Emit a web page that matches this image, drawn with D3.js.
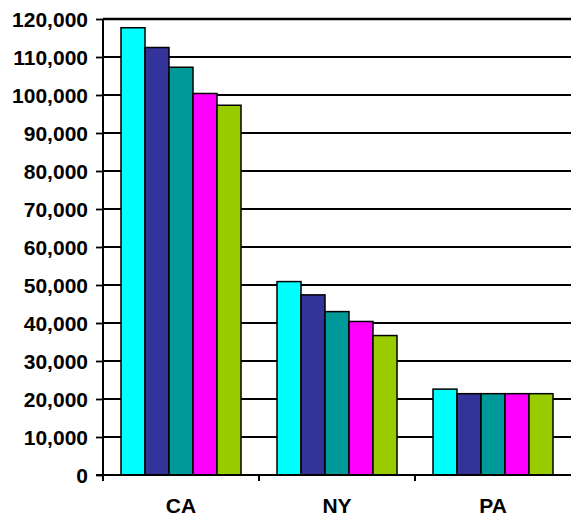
<!DOCTYPE html>
<html>
<head>
<meta charset="utf-8">
<script src="https://cdn.jsdelivr.net/npm/d3@7"></script>
<style>
  html, body { margin: 0; padding: 0; background: #fff; }
  svg text { font-family: "Liberation Sans", Arial, sans-serif; font-weight: bold; fill: #000; }
</style>
</head>
<body>
<div id="chart"></div>
<script>
//-- data
const states = ["CA", "NY", "PA"];
const seriesNames = ["s1", "s2", "s3", "s4", "s5"];
const colors = ["#00ffff", "#333399", "#009999", "#ff00ff", "#99cc00"];
const caValues = [117700, 112500, 107300, 100400, 97300];
const nyValues = [50900, 47400, 43000, 40400, 36700];
const paValues = [22600, 21400, 21400, 21400, 21400];
const yTicks = [0, 10000, 20000, 30000, 40000, 50000, 60000, 70000, 80000, 90000, 100000, 110000, 120000];

const valuesByState = { CA: caValues, NY: nyValues, PA: paValues };

//-- dimensions
const width = 571;
const height = 516;
const margin = { top: 19, right: 0, bottom: 41, left: 103 };

const svg = d3.select("#chart").append("svg")
  .attr("width", width)
  .attr("height", height);

const x = d3.scaleBand()
  .domain(states)
  .range([margin.left, width - margin.right])
  .padding(0);

const xInner = d3.scaleBand()
  .domain(seriesNames)
  .range([0, x.bandwidth()])
  .paddingInner(0)
  .paddingOuter(0.75);

const y = d3.scaleLinear()
  .domain([0, 120000])
  .range([height - margin.bottom, margin.top]);

//-- gridlines
svg.append("g")
  .selectAll("line")
  .data(yTicks.filter(d => d > 0))
  .join("line")
  .attr("x1", margin.left)
  .attr("x2", width)
  .attr("y1", d => y(d))
  .attr("y2", d => y(d))
  .attr("stroke", "#000")
  .attr("stroke-width", d => d === 120000 ? 2.5 : 1.8);

//-- bars
const groups = svg.append("g")
  .selectAll("g")
  .data(states)
  .join("g")
  .attr("transform", d => `translate(${x(d)},0)`);

groups.selectAll("rect")
  .data(d => valuesByState[d].map((v, i) => ({ key: seriesNames[i], value: v, color: colors[i] })))
  .join("rect")
  .attr("x", d => xInner(d.key))
  .attr("width", xInner.bandwidth())
  .attr("y", d => y(d.value))
  .attr("height", d => y(0) - y(d.value))
  .attr("fill", d => d.color)
  .attr("stroke", "#000")
  .attr("stroke-width", 1.5);

//-- y axis
const yAxis = svg.append("g")
  .attr("transform", `translate(${margin.left},0)`)
  .call(d3.axisLeft(y).tickValues(yTicks).tickFormat(d3.format(",")).tickSize(7).tickPadding(8));
yAxis.select(".domain").attr("stroke", "#000").attr("stroke-width", 2).attr("d", `M0,${y(0)}V${margin.top}`);
yAxis.selectAll(".tick line").attr("stroke", "#000").attr("stroke-width", 1.8);
yAxis.selectAll(".tick text").style("font-size", "21px").attr("dy", "0.36em");

//-- x axis
const baseY = y(0);
svg.append("line")
  .attr("x1", margin.left - 7)
  .attr("x2", width)
  .attr("y1", baseY)
  .attr("y2", baseY)
  .attr("stroke", "#000")
  .attr("stroke-width", 2);

svg.append("g")
  .selectAll("line")
  .data(states)
  .join("line")
  .attr("x1", d => x(d))
  .attr("x2", d => x(d))
  .attr("y1", baseY)
  .attr("y2", baseY + 6)
  .attr("stroke", "#000")
  .attr("stroke-width", 2);

svg.append("g")
  .selectAll("text")
  .data(states)
  .join("text")
  .attr("x", d => x(d) + x.bandwidth() / 2)
  .attr("y", baseY + 38)
  .attr("text-anchor", "middle")
  .style("font-size", "21px")
  .text(d => d);
</script>
</body>
</html>
